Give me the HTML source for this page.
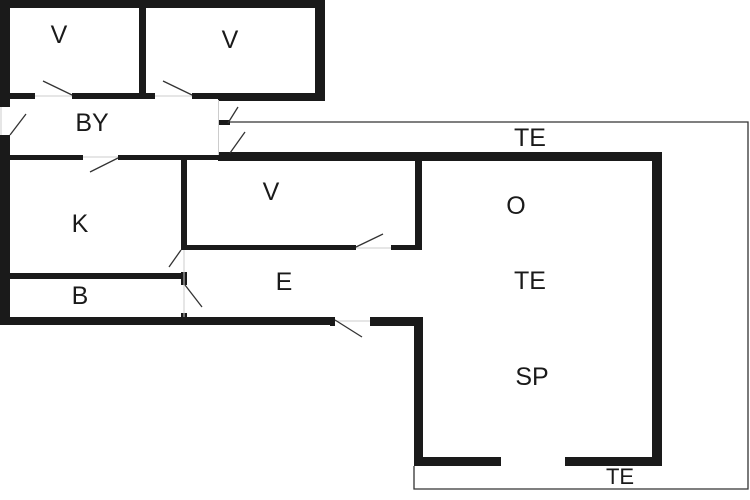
<!DOCTYPE html>
<html><head><style>html,body{margin:0;padding:0;background:#fff;width:750px;height:500px;overflow:hidden}</style></head>
<body>
<svg width="750" height="500" viewBox="0 0 750 500" xmlns="http://www.w3.org/2000/svg">
<g fill="#1a1a1a">
<!-- top block -->
<rect x="0" y="0" width="325" height="8"/>
<rect x="0" y="0" width="10" height="107"/>
<rect x="0" y="135" width="10" height="190"/>
<rect x="139" y="0" width="7" height="97"/>
<rect x="315" y="0" width="10" height="101"/>
<rect x="10" y="93" width="25" height="6"/>
<rect x="72" y="93" width="83" height="6"/>
<rect x="192" y="93" width="26" height="6"/>
<rect x="218" y="93" width="107" height="8"/>
<rect x="219" y="120" width="11" height="5"/>
<!-- BY bottom -->
<rect x="10" y="155" width="73" height="5"/>
<rect x="118" y="155" width="100" height="5"/>
<rect x="218" y="152" width="444" height="9"/>
<!-- right part -->
<rect x="652" y="152" width="10" height="314"/>
<rect x="414" y="457" width="87" height="9"/>
<rect x="565" y="457" width="97" height="9"/>
<rect x="414" y="317" width="9" height="149"/>
<rect x="370" y="317" width="53" height="9"/>
<rect x="330" y="317" width="5" height="9"/>
<rect x="0" y="317" width="335" height="8"/>
<!-- inner -->
<rect x="181" y="160" width="6" height="90"/>
<rect x="181" y="272" width="6" height="13"/>
<rect x="181" y="313" width="6" height="12"/>
<rect x="10" y="273" width="171" height="6"/>
<rect x="187" y="245" width="169" height="5"/>
<rect x="391" y="245" width="31" height="5"/>
<rect x="415" y="160" width="7" height="90"/>
</g>
<g stroke="#ccc" stroke-width="1" fill="none">
<line x1="218.5" y1="100" x2="218.5" y2="155"/>
<line x1="184" y1="250" x2="184" y2="317"/>
<line x1="35" y1="96" x2="72" y2="96"/>
<line x1="155" y1="96" x2="192" y2="96"/>
<line x1="83" y1="157" x2="118" y2="157"/>
<line x1="356" y1="248" x2="391" y2="248"/>
<line x1="335" y1="321" x2="370" y2="321"/>
<line x1="1" y1="107" x2="1" y2="135"/>
</g>
<g stroke="#333" stroke-width="1.3" fill="none">
<polyline points="230,122 748,122 748,489 414,489 414,466"/>
<line x1="43" y1="81" x2="72" y2="95"/>
<line x1="163" y1="81" x2="192" y2="95"/>
<line x1="10" y1="135" x2="26" y2="114"/>
<line x1="228" y1="123" x2="238" y2="107"/>
<line x1="230" y1="153" x2="245" y2="132"/>
<line x1="90" y1="172" x2="118" y2="158"/>
<line x1="169" y1="267" x2="181" y2="250"/>
<line x1="185" y1="285" x2="202" y2="307"/>
<line x1="356" y1="247" x2="383" y2="234"/>
<line x1="335" y1="320" x2="362" y2="337"/>
</g>
<g font-family="Liberation Sans, sans-serif" font-size="25" fill="#1a1a1a" text-anchor="middle">
<text x="59" y="43">V</text>
<text x="230" y="48">V</text>
<text x="92" y="131">BY</text>
<text x="80" y="232">K</text>
<text x="80" y="304">B</text>
<text x="271" y="200">V</text>
<text x="284" y="290">E</text>
<text x="516" y="214">O</text>
<text x="530" y="146">TE</text>
<text x="530" y="289">TE</text>
<text x="532" y="385">SP</text>
<text x="620" y="484" font-size="22">TE</text>
</g>
</svg>
</body></html>
